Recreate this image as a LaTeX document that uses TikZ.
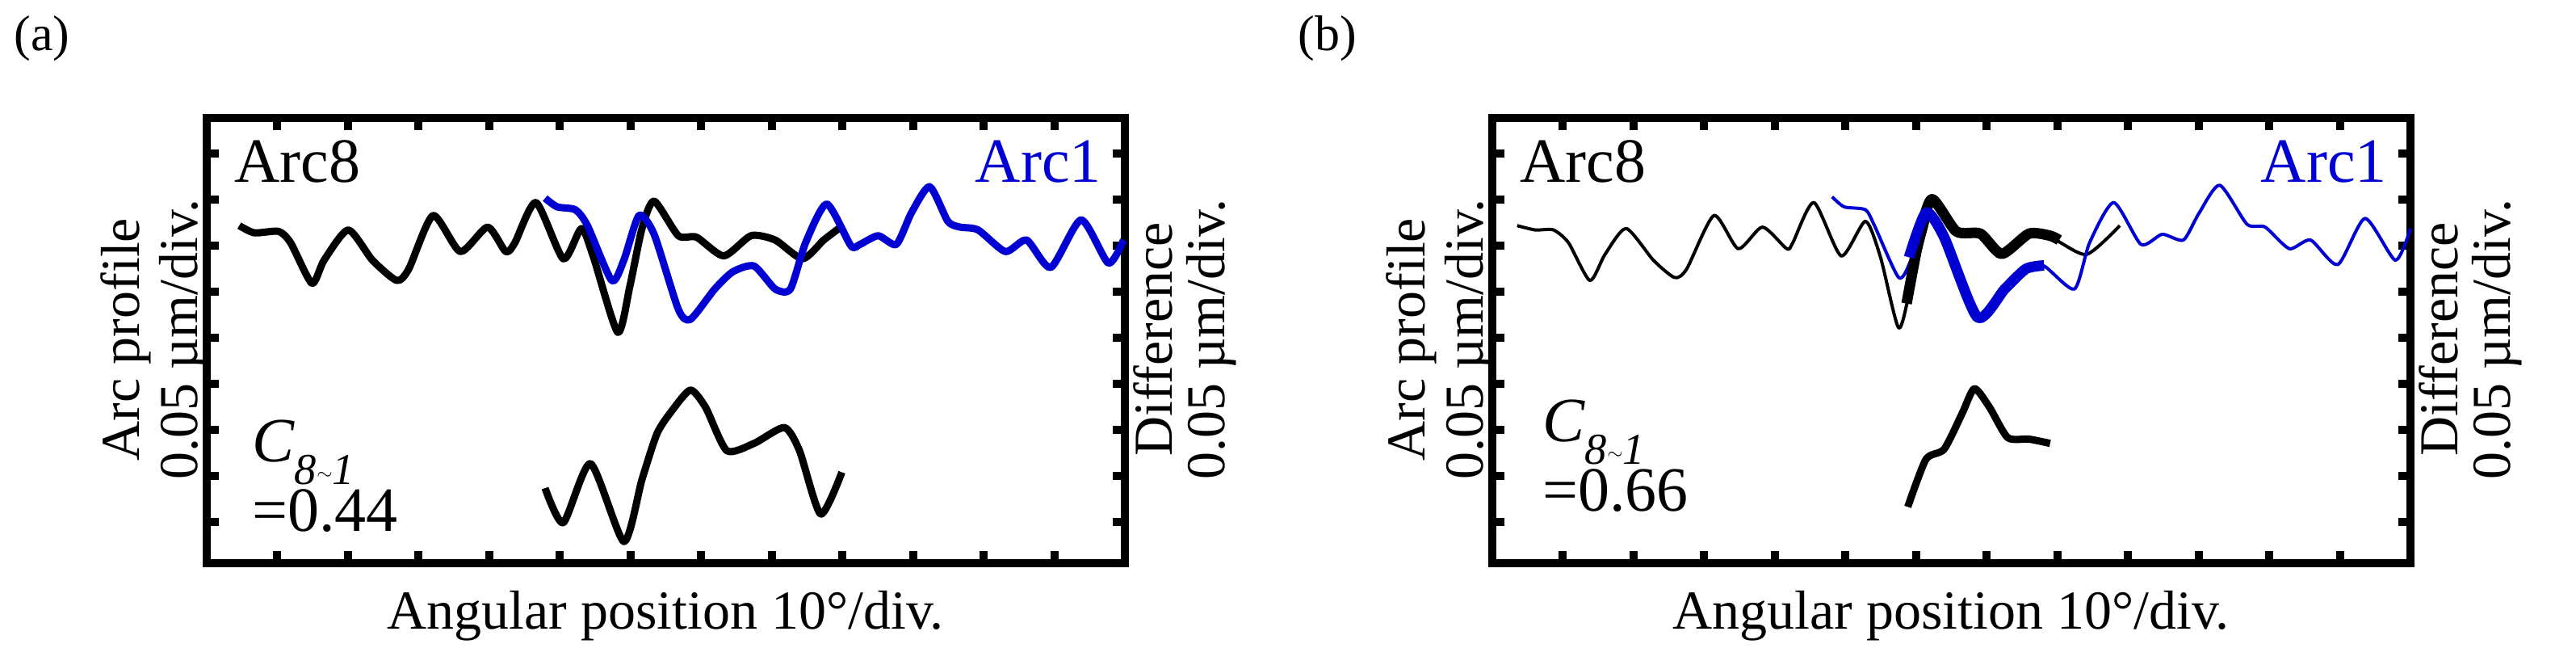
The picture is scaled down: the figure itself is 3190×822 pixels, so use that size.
\documentclass[tikz,border=0pt]{standalone}
\usepackage{fontspec}
\setmainfont{Liberation Serif}
\begin{document}
\begin{tikzpicture}[x=1pt,y=-1pt,
  lab/.style={font=\fontsize{68}{68}\selectfont,inner sep=0pt},
  big/.style={font=\fontsize{78}{78}\selectfont,inner sep=0pt},
  frm/.style={line width=10pt},
  tk/.style={line width=10pt},
  thk/.style={line width=9pt,line join=round},
  thn/.style={line width=4pt,line join=round},
  hvy/.style={line width=13pt,line join=round}]
\definecolor{arcblue}{RGB}{0,0,210}
\useasboundingbox (0,0) rectangle (3190,822);
\foreach \L/\xo in {a/0,b/1592}{
\begin{scope}[xshift=\xo pt]
  \draw[frm] (256,146) rectangle (1393,697);
  \foreach \k in {1,...,12} {
    \draw[tk] (256+87.46*\k,146) -- ++(0,15);
    \draw[tk] (256+87.46*\k,697) -- ++(0,-15);}
  \foreach \k in {0,...,8} {
    \draw[tk] (256,190+57*\k) -- ++(15,0);
    \draw[tk] (1393,190+57*\k) -- ++(-15,0);}
  \node[big,anchor=west] (arc8\L) at (290,200) {Arc8};
  \node[big,anchor=east,text=arcblue] (arc1\L) at (1364,200) {Arc1};
  \node[lab,rotate=90] (yl1\L) at (156,420) {Arc profile};
  \node[lab,rotate=90] (yl2\L) at (228,420) {0.05 µm/div.};
  \node[lab,rotate=90] (yr1\L) at (1428,420) {Difference};
  \node[lab,rotate=90] (yr2\L) at (1500,420) {0.05 µm/div.};
  \node[lab] (xl\L) at (824,762) {Angular position 10°/div.};
  \node[font=\fontsize{62}{62}\selectfont,inner sep=0pt] (p\L) at (52,48) {(\L)};
\end{scope}}
\node[big,anchor=west] (ca) at (312,560) {\textit{C}\textsubscript{\textit{8\raisebox{0.1em}{\(\sim\)}1}}};
\node[big,anchor=west] (va) at (312,632) {=0.44};
\node[big,anchor=west] (cb) at (1910,535) {\textit{C}\textsubscript{\textit{8\raisebox{0.1em}{\(\sim\)}1}}};
\node[big,anchor=west] (vb) at (1910,607) {=0.66};
% panel a curves
\begin{scope}[shift={(240,140)},xscale=0.75,yscale=0.357]
\draw[thk] plot[smooth,tension=0.4] coordinates {(75,390)(100,415)(140,410)(160,450)(195,590)(215,510)(255,405)(295,510)(335,580)(355,540)(395,355)(440,480)(485,395)(515,480)(530,450)(565,310)(610,505)(640,400)(660,500)(700,760)(720,600)(740,400)(760,305)(800,425)(830,430)(875,495)(920,425)(960,440)(1005,505)(1040,440)(1065,400)};
\draw[thk,arcblue] plot[smooth,tension=0.4] coordinates {(580,295)(600,325)(630,335)(650,390)(690,580)(710,510)(735,355)(760,420)(800,680)(820,715)(860,610)(890,550)(925,530)(960,610)(985,610)(1010,450)(1045,315)(1085,460)(1100,455)(1130,425)(1160,455)(1185,345)(1215,255)(1245,375)(1265,395)(1295,405)(1340,480)(1375,440)(1415,535)(1465,370)(1510,520)(1535,440)};
\draw[thk] plot[smooth,tension=0.4] coordinates {(580,1300)(610,1420)(655,1215)(710,1485)(740,1270)(765,1110)(790,1030)(820,960)(845,1020)(880,1170)(925,1145)(975,1090)(1000,1170)(1035,1390)(1070,1245)};
\end{scope}
% panel b curves
\begin{scope}[shift={(1830,140)},xscale=0.75,yscale=0.357]
\draw[thn] plot[smooth,tension=0.4] coordinates {(65,390)(95,405)(125,405)(150,450)(185,580)(210,490)(245,400)(290,510)(325,570)(345,540)(390,355)(430,470)(470,395)(510,470)(520,450)(555,310)(600,495)(640,375)(665,500)(695,745)(715,600)(740,400)(755,300)(790,410)(830,415)(865,490)(910,415)(950,435)(1005,490)(1060,390)};
\draw[thn,arcblue] plot[smooth,tension=0.4] coordinates {(585,290)(605,325)(640,335)(655,390)(695,570)(715,510)(740,345)(770,430)(825,710)(870,610)(905,540)(935,530)(985,610)(1010,450)(1050,310)(1095,455)(1130,420)(1165,440)(1190,350)(1225,250)(1270,385)(1300,395)(1340,470)(1375,440)(1420,525)(1465,365)(1515,510)(1540,400)};
\draw[hvy] plot[smooth,tension=0.4] coordinates {(708,660)(730,420)(750,298)(790,410)(830,418)(865,488)(910,418)(945,425)(960,440)};
\draw[hvy,arcblue] plot[smooth,tension=0.4] coordinates {(712,500)(740,345)(770,430)(825,708)(870,610)(905,540)(935,528)};
\draw[thk] plot[smooth,tension=0.4] coordinates {(710,1365)(740,1200)(770,1165)(800,1040)(820,955)(845,1020)(875,1125)(910,1130)(945,1145)};
\end{scope}
\end{tikzpicture}
\end{document}
